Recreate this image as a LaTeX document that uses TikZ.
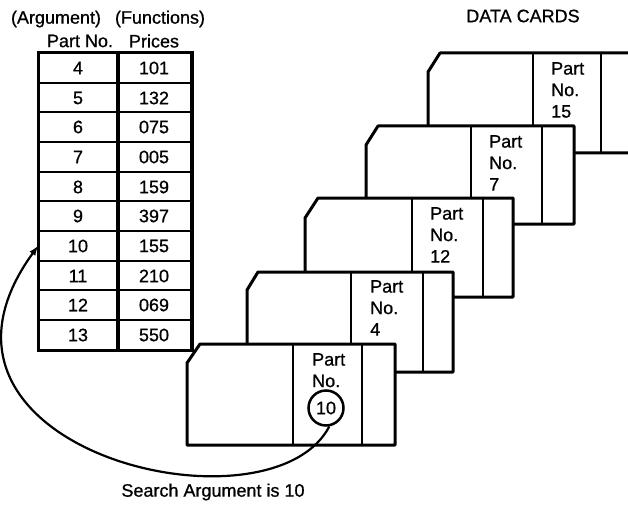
\documentclass[tikz,border=0pt]{standalone}
\usepackage{fontspec}
\setmainfont{Liberation Sans}[FakeBold=0.8]
\begin{document}
\begin{tikzpicture}[x=1pt,y=-1pt,font=\fontsize{18}{21.5}\selectfont,
  cell/.style={rectangle, draw=inkdraw, fill=paperfill, text=inktext, line width=2pt, minimum height=29.7pt, inner sep=0pt},
  argcell/.style={cell, minimum width=78pt},
  funcell/.style={cell, minimum width=74pt},
  card/.style={draw=inkdraw, fill=paperfill, line width=3pt, line join=round},
  cardline/.style={draw=inkdraw, line width=2pt},
  cardtext/.style={anchor=north west, align=left, inner sep=0pt, text=inktext}]
%Define all colors here.

\definecolor{paperfill}{RGB}{255,255,255}
\definecolor{inktext}{RGB}{0,0,0}
\definecolor{inkdraw}{RGB}{0,0,0}
\useasboundingbox (0,0) rectangle (628,505);
\clip (0,0) rectangle (628,505);

\node(argtitle) at (56,19) [text=inktext] {(Argument)};
\node(funtitle) at (160,19) [text=inktext] {(Functions)};
\node(partno) at (80,41) [text=inktext] {Part No.};
\node(prices) at (154,41) [text=inktext] {Prices};
\node(datacards) at (523,16) [text=inktext] {DATA CARDS};
\node(search) at (213,492) [text=inktext] {Search Argument is 10};

\node(a4) at (78,68) [argcell] {4};
\node(f4) at (154,68) [funcell] {101};
\node(a5) at (78,98) [argcell] {5};
\node(f5) at (154,98) [funcell] {132};
\node(a6) at (78,127) [argcell] {6};
\node(f6) at (154,127) [funcell] {075};
\node(a7) at (78,157) [argcell] {7};
\node(f7) at (154,157) [funcell] {005};
\node(a8) at (78,187) [argcell] {8};
\node(f8) at (154,187) [funcell] {159};
\node(a9) at (78,216) [argcell] {9};
\node(f9) at (154,216) [funcell] {397};
\node(a10) at (78,246) [argcell] {10};
\node(f10) at (154,246) [funcell] {155};
\node(a11) at (78,276) [argcell] {11};
\node(f11) at (154,276) [funcell] {210};
\node(a12) at (78,305) [argcell] {12};
\node(f12) at (154,305) [funcell] {069};
\node(a13) at (78,335) [argcell] {13};
\node(f13) at (154,335) [funcell] {550};
\draw[draw=inkdraw, line width=3pt] (a4.north west) rectangle (f13.south east);
\draw[draw=inkdraw, line width=3pt] (a4.north east) -- (a13.south east);

% card 15
\draw[card] (428,72) -- (440,53) -- (636,53) -- (636,153) -- (428,153) -- cycle;
\draw[cardline] (533,53) -- (533,153) (601,53) -- (601,153);
\node(card15) at (551,62) [cardtext] {Part\\No.\\15};

% card 7
\draw[card] (366,145) -- (378,126) -- (574,126) -- (574,224) -- (366,224) -- cycle;
\draw[cardline] (471,126) -- (471,224) (542,126) -- (542,224);
\node(card7) at (489,135) [cardtext] {Part\\No.\\7};

% card 12
\draw[card] (305,218) -- (318,198) -- (513,198) -- (513,297) -- (305,297) -- cycle;
\draw[cardline] (412,198) -- (412,297) (483,198) -- (483,297);
\node(card12) at (430,207) [cardtext] {Part\\No.\\12};

% card 4
\draw[card] (247,290) -- (258,272) -- (453,272) -- (453,372) -- (247,372) -- cycle;
\draw[cardline] (351,272) -- (351,372) (423,272) -- (423,372);
\node(card4) at (370,280) [cardtext] {Part\\No.\\4};

% card 10
\draw[card] (187,363) -- (200,344) -- (395,344) -- (395,445) -- (187,445) -- cycle;
\draw[cardline] (293,344) -- (293,445) (362,344) -- (362,445);
\node(card10) at (312,353) [cardtext] {Part\\No.};
\node(arg) at (326,408) [circle, draw=inkdraw, line width=2.5pt, minimum size=35pt, inner sep=0pt, text=inktext] {10};

\draw[->, >=latex, line width=2.2pt, draw=inkdraw] (arg.-80) .. controls (270,540) and (-110,450) .. (a10.west);
\end{tikzpicture}
\end{document}
